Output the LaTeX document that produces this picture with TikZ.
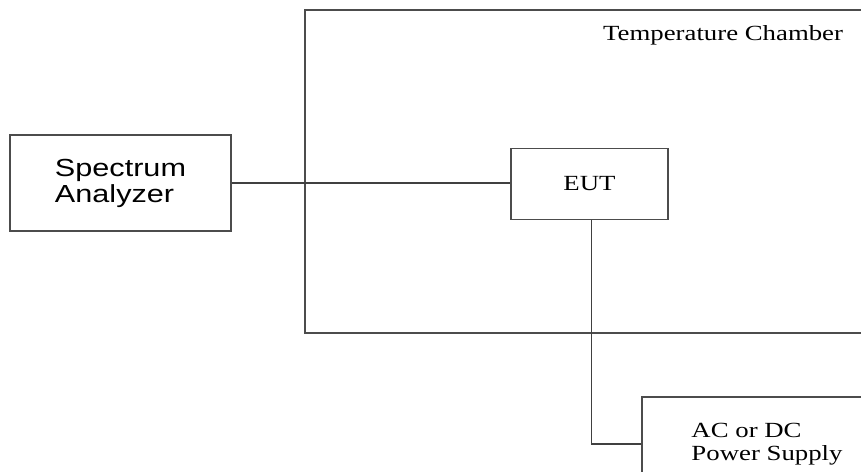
\documentclass[tikz,border=0pt]{standalone}
\usepackage{fontspec}
\setmainfont{Liberation Serif}
\setsansfont{Liberation Sans}
\newcommand{\widetext}[1]{\scalebox{1.24}[1]{#1}}
\tikzset{
  unit/.style={rectangle, draw=black!70, line width=1.4bp, fill=white},
  wire/.style={draw=black!75, line width=1.5bp}
}
\begin{document}
\begin{tikzpicture}[x=1bp, y=-1bp,
    font=\fontsize{21.6bp}{23bp}\selectfont]
	\useasboundingbox (0,0) rectangle (861,472);
	\clip (0,0) rectangle (861,472);

	\node [unit, minimum width=595bp, minimum height=323bp] (chamber) at (602.5,171.5) {};
	\node [anchor=base west, inner sep=0pt] (title) at (603,41) {\widetext{Temperature Chamber}};

	\node [unit, minimum width=221bp, minimum height=96bp, align=left,
	       font=\sffamily\fontsize{24.7bp}{26bp}\selectfont] (analyzer) at (120.5,183)
	      {\widetext{Spectrum}\\\widetext{Analyzer}};
	\node [unit, minimum width=157bp, minimum height=71bp] (eut) at (589.5,184) {\widetext{EUT}};
	\node [unit, minimum width=250bp, minimum height=94bp, align=left] (supply) at (767,444)
	      {\widetext{AC or DC}\\\widetext{Power Supply}};

	\draw [wire] (analyzer.east) -- (analyzer.east -| eut.west);
	\draw [wire] ([xshift=2bp]eut.south) |- (supply.west);
\end{tikzpicture}
\end{document}
